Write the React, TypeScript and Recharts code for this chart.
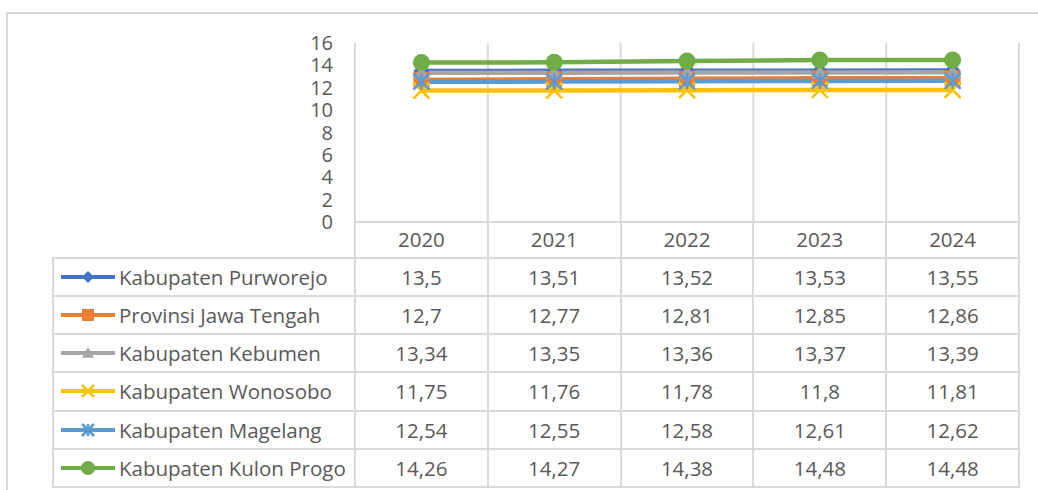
import React from 'react';
import { LineChart, Line, XAxis, YAxis, CartesianGrid } from 'recharts';

const years = ['2020', '2021', '2022', '2023', '2024'];
const purworejo = [13.5, 13.51, 13.52, 13.53, 13.55];
const jawaTengah = [12.7, 12.77, 12.81, 12.85, 12.86];
const kebumen = [13.34, 13.35, 13.36, 13.37, 13.39];
const wonosobo = [11.75, 11.76, 11.78, 11.8, 11.81];
const magelang = [12.54, 12.55, 12.58, 12.61, 12.62];
const kulonProgo = [14.26, 14.27, 14.38, 14.48, 14.48];
const yTicks = [0, 2, 4, 6, 8, 10, 12, 14, 16];

type Shape = 'diamond' | 'square' | 'triangle' | 'x' | 'star' | 'circle';

const series: { key: string; name: string; values: number[]; color: string; shape: Shape }[] = [
  { key: 'purworejo', name: 'Kabupaten Purworejo', values: purworejo, color: '#4472C4', shape: 'diamond' },
  { key: 'jawaTengah', name: 'Provinsi Jawa Tengah', values: jawaTengah, color: '#ED7D31', shape: 'square' },
  { key: 'kebumen', name: 'Kabupaten Kebumen', values: kebumen, color: '#A5A5A5', shape: 'triangle' },
  { key: 'wonosobo', name: 'Kabupaten Wonosobo', values: wonosobo, color: '#FFC000', shape: 'x' },
  { key: 'magelang', name: 'Kabupaten Magelang', values: magelang, color: '#5B9BD5', shape: 'star' },
  { key: 'kulonProgo', name: 'Kabupaten Kulon Progo', values: kulonProgo, color: '#70AD47', shape: 'circle' },
];

const data = years.map((year, i) => {
  const row: Record<string, string | number> = { year };
  series.forEach((s) => (row[s.key] = s.values[i]));
  return row;
});

const FONT = '"Open Sans", sans-serif';
const TEXT = '#595959';
const GRID = '#D9D9D9';

// layout of plot + data table
const W = 1038;
const H = 490;
const PLOT_L = 355;
const PLOT_R = 1019;
const PLOT_T = 43;
const PLOT_B = 222;
const HEAD_B = 257.5;
const TABLE_L = 53;
const TABLE_B = 487;
const Y_AXIS_W = 60;
const X_AXIS_H = 36;
const colW = (PLOT_R - PLOT_L) / years.length;
const rowH = (TABLE_B - HEAD_B) / series.length;

function Marker({ shape, cx, cy, color, size }: { shape: Shape; cx: number; cy: number; color: string; size: number }) {
  const r = size / 2;
  switch (shape) {
    case 'diamond':
      return <polygon points={`${cx},${cy - r} ${cx + r},${cy} ${cx},${cy + r} ${cx - r},${cy}`} fill={color} />;
    case 'square':
      return <rect x={cx - r} y={cy - r} width={size} height={size} fill={color} />;
    case 'triangle':
      return <polygon points={`${cx},${cy - r} ${cx + r},${cy + r * 0.8} ${cx - r},${cy + r * 0.8}`} fill={color} />;
    case 'x':
      return (
        <g stroke={color} strokeWidth={2.5}>
          <line x1={cx - r} y1={cy - r} x2={cx + r} y2={cy + r} />
          <line x1={cx - r} y1={cy + r} x2={cx + r} y2={cy - r} />
        </g>
      );
    case 'star':
      return (
        <g stroke={color} strokeWidth={2.5}>
          <line x1={cx - r} y1={cy - r} x2={cx + r} y2={cy + r} />
          <line x1={cx - r} y1={cy + r} x2={cx + r} y2={cy - r} />
          <line x1={cx} y1={cy - r} x2={cx} y2={cy + r} />
        </g>
      );
    default:
      return <circle cx={cx} cy={cy} r={r} fill={color} />;
  }
}

const fmt = (v: number) => String(v).replace('.', ',');

function Cell({ x0, x1, y0, y1, children }: { x0: number; x1: number; y0: number; y1: number; children?: React.ReactNode }) {
  return (
    <div
      style={{
        position: 'absolute',
        left: x0 - 1,
        top: y0 - 1,
        width: x1 - x0 + 2,
        height: y1 - y0 + 2,
        boxSizing: 'border-box',
        border: `2px solid ${GRID}`,
        display: 'flex',
        alignItems: 'center',
        justifyContent: 'center',
        fontFamily: FONT,
        fontSize: 20.5,
        color: TEXT,
        whiteSpace: 'nowrap',
      }}
    >
      {children}
    </div>
  );
}

export default function App() {
  const colX = (i: number) => PLOT_L + i * colW;
  return (
    <div style={{ position: 'absolute', left: 0, top: 0, width: W, height: H, background: '#fff', overflow: 'hidden' }}>
      <div style={{ position: 'absolute', left: 6, top: 12, width: W + 20, height: H + 20, boxSizing: 'border-box', border: `2px solid ${GRID}` }} />

      {/* header row separators */}
      {years.map((y, i) => (
        <Cell key={`h${y}`} x0={colX(i)} x1={colX(i + 1)} y0={PLOT_B} y1={HEAD_B} />
      ))}

      {/* data table with legend keys */}
      {series.map((s, r) => {
        const y0 = HEAD_B + r * rowH;
        const y1 = y0 + rowH;
        return (
          <React.Fragment key={s.key}>
            <Cell x0={TABLE_L} x1={PLOT_L} y0={y0} y1={y1}>
              <div style={{ width: '100%', display: 'flex', alignItems: 'center', paddingLeft: 6 }}>
                <svg width={56} height={20} style={{ flex: 'none' }}>
                  <line x1={1} y1={10} x2={55} y2={10} stroke={s.color} strokeWidth={4} />
                  <Marker shape={s.shape} cx={28} cy={10} color={s.color} size={s.shape === 'circle' ? 14 : 12} />
                </svg>
                <span style={{ marginLeft: 3 }}>{s.name}</span>
              </div>
            </Cell>
            {s.values.map((v, i) => (
              <Cell key={`${s.key}${i}`} x0={colX(i)} x1={colX(i + 1)} y0={y0} y1={y1}>
                {fmt(v)}
              </Cell>
            ))}
          </React.Fragment>
        );
      })}

      <div style={{ position: 'absolute', left: 0, top: 0 }}>
        <LineChart
          width={W}
          height={H}
          data={data}
          margin={{ top: PLOT_T, right: W - PLOT_R, bottom: H - PLOT_B - X_AXIS_H, left: PLOT_L - Y_AXIS_W }}
        >
          <CartesianGrid
            horizontal={false}
            stroke={GRID}
            strokeWidth={2}
            verticalCoordinatesGenerator={({ offset }: any) =>
              years.map((_, i) => offset.left + (i * offset.width) / years.length).concat(offset.left + offset.width)
            }
          />
          <XAxis
            dataKey="year"
            height={X_AXIS_H}
            interval={0}
            padding={{ left: colW / 2, right: colW / 2 }}
            tickLine={false}
            tickSize={0}
            tickMargin={10}
            axisLine={{ stroke: GRID, strokeWidth: 2 }}
            tick={{ fill: TEXT, fontSize: 20.5, fontFamily: FONT }}
          />
          <YAxis
            width={Y_AXIS_W}
            domain={[0, 16]}
            ticks={yTicks}
            interval={0}
            tickLine={false}
            axisLine={false}
            tickSize={0}
            tickMargin={22}
            tick={{ fill: TEXT, fontSize: 20, fontFamily: FONT }}
          />
          {series.map((s) => (
            <Line
              key={s.key}
              dataKey={s.key}
              name={s.name}
              type="linear"
              stroke={s.color}
              strokeWidth={4.5}
              isAnimationActive={false}
              dot={(p: any) => (
                <Marker key={`${s.key}-${p.index}`} shape={s.shape} cx={p.cx} cy={p.cy} color={s.color} size={s.shape === 'circle' ? 17 : 16} />
              )}
            />
          ))}
        </LineChart>
      </div>
    </div>
  );
}
